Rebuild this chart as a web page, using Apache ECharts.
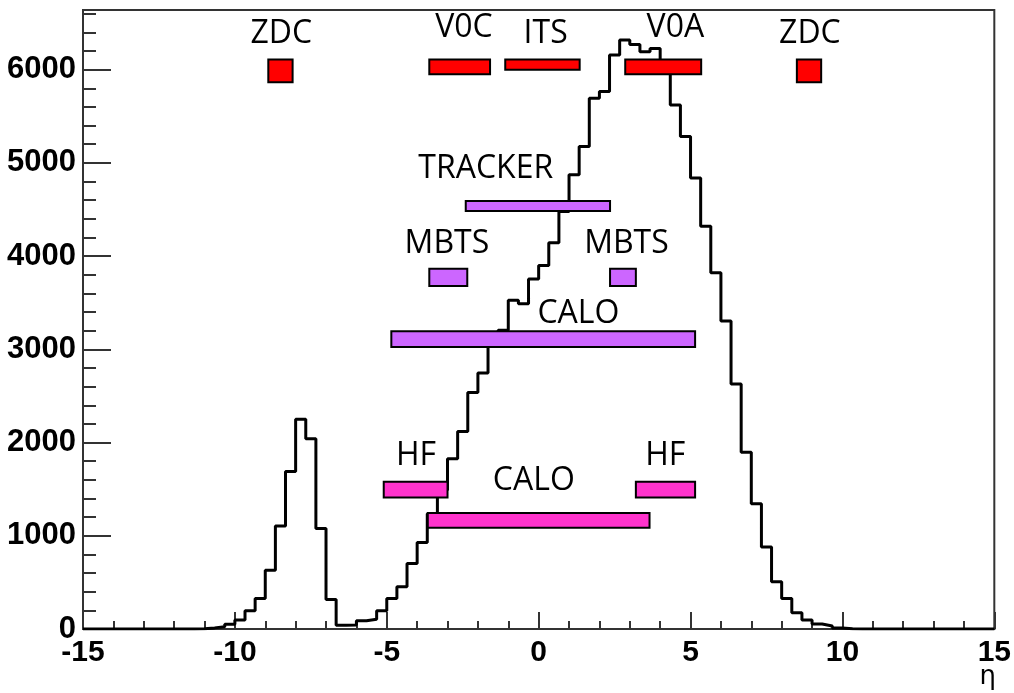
<!DOCTYPE html>
<html>
<head>
<meta charset="utf-8">
<script src="https://cdn.jsdelivr.net/npm/echarts@6/dist/echarts.min.js"></script>
<style>
html,body{margin:0;padding:0;background:#fff;}
#chart{width:1014px;height:693px;}
</style>
</head>
<body>
<div id="chart"></div>
<script>
// Histogram: 90 bins of width 1/3 between eta = -15 and 15
const etaMin = -15;
const etaMax = 15;
const binWidth = 1 / 3;
const counts = [0,0,0,0,0,0,0,0,0,0,0,3,
  12,25,50,96,196,328,631,1105,1690,2250,
  2040,1077,317,40,42,88,105,195,328,453,
  702,927,1237,1490,1825,2118,2538,2745,3100,3205,
  3526,3490,3755,3900,4143,4478,4874,5176,5693,5765,
  6157,6317,6271,6193,6228,6050,5622,5283,4838,4321,
  3822,3305,2627,1897,1344,880,506,328,175,96,
  53,32,10,3,
  0,0,0,0,0,0,0,0,0,0,0,0,0,0];

const xTicks = [-15, -10, -5, 0, 5, 10, 15];
const yTicks = [0, 1000, 2000, 3000, 4000, 5000, 6000];
const yMax = 6640;

// Detector acceptances
const detNames  = ['ZDC','V0C','ITS','V0A','ZDC','TRACKER','MBTS','MBTS','CALO','HF','HF','CALO'];
const detEtaLo  = [-8.9,-3.6,-1.1,2.85,8.5,-2.4,-3.6,2.35,-4.85,-5.1,3.2,-3.65];
const detEtaHi  = [-8.1,-1.6,1.35,5.35,9.3,2.35,-2.35,3.2,5.15,-3.0,5.15,3.65];
const detYLo    = [5865,5950,6000,5950,5865,4485,3680,3680,3025,1410,1410,1085];
const detYHi    = [6110,6110,6110,6110,6110,4590,3865,3865,3195,1580,1580,1245];
const detGroup  = [0,0,0,0,0,1,1,1,1,2,2,2];
const labelEta  = [-8.47,-2.46,0.23,4.50,8.93,-1.74,-3.02,2.89,1.31,-4.04,4.17,-0.16];
const labelY    = [6380,6450,6385,6450,6385,4940,4135,4135,3375,1852,1852,1585];

const groupColors = ['#ff0000', '#cc66ff', '#ff33cc'];

const histData = counts.map((v, i) => [etaMin + i * binWidth, v]);
histData.push([etaMax, counts[counts.length - 1]]);

const boxData = detNames.map((n, i) => [detEtaLo[i], detEtaHi[i], detYLo[i], detYHi[i], detGroup[i]]);
const textData = detNames.map((n, i) => [labelEta[i], labelY[i], n]);

const chart = echarts.init(document.getElementById('chart'), null, {renderer: 'canvas'});
const axisCol = '#333';
chart.setOption({
  animation: false,
  backgroundColor: '#fff',
  grid: {left: 83, right: 17, top: 10, bottom: 64, show: true, borderColor: axisCol, borderWidth: 2, containLabel: false},
  xAxis: {
    type: 'value', min: etaMin, max: etaMax, interval: 5,
    axisLine: {show: true, onZero: false, lineStyle: {color: axisCol, width: 2}},
    axisTick: {show: true, inside: true, length: 17, lineStyle: {color: axisCol, width: 2}},
    minorTick: {show: true, splitNumber: 5, length: 8, lineStyle: {color: axisCol, width: 2}},
    splitLine: {show: false},
    axisLabel: {
      margin: 9, color: '#000', fontFamily: 'Liberation Sans, Arial, sans-serif', fontWeight: 'bold', fontSize: 30,
      formatter: v => xTicks.includes(v) ? String(v) : ''
    }
  },
  yAxis: [{
    type: 'value', min: 0, max: yMax, interval: 1000, position: 'left',
    axisLine: {show: true, onZero: false, lineStyle: {color: axisCol, width: 2}},
    axisTick: {show: true, inside: true, length: 28, lineStyle: {color: axisCol, width: 2}},
    splitLine: {show: false},
    axisLabel: {
      margin: 7, color: '#000', fontFamily: 'Liberation Sans, Arial, sans-serif', fontWeight: 'bold', fontSize: 31,
      showMaxLabel: false,
      formatter: v => yTicks.includes(v) ? String(v) : ''
    }
  }, {
    type: 'value', min: 0, max: yMax, interval: 200, position: 'left', offset: 0,
    axisLine: {show: false, onZero: false},
    axisTick: {show: true, inside: true, length: 13, lineStyle: {color: axisCol, width: 2}},
    splitLine: {show: false},
    axisLabel: {show: false}
  }],
  graphic: [{
    type: 'text', right: 18, bottom: 3,
    style: {text: 'η', font: '26px "DejaVu Sans", sans-serif', fill: '#000'}
  }],
  series: [{
    type: 'line', step: 'end', data: histData, symbol: 'none', z: 2,
    lineStyle: {color: '#000', width: 3}, clip: true
  }, {
    type: 'custom', z: 3, data: boxData, clip: false,
    renderItem: (params, api) => {
      const p1 = api.coord([api.value(0), api.value(3)]);
      const p2 = api.coord([api.value(1), api.value(2)]);
      return {
        type: 'rect',
        shape: {x: p1[0], y: p1[1], width: p2[0] - p1[0], height: p2[1] - p1[1]},
        style: {fill: groupColors[api.value(4)], stroke: '#000', lineWidth: 2}
      };
    }
  }, {
    type: 'custom', z: 4, data: textData, clip: false,
    renderItem: (params, api) => {
      const p = api.coord([api.value(0), api.value(1)]);
      return {
        type: 'text', x: p[0], y: p[1],
        style: {text: textData[params.dataIndex][2], font: '32px "Open Sans", sans-serif', fill: '#000', align: 'center', verticalAlign: 'middle'}
      };
    }
  }]
});
</script>
</body>
</html>
